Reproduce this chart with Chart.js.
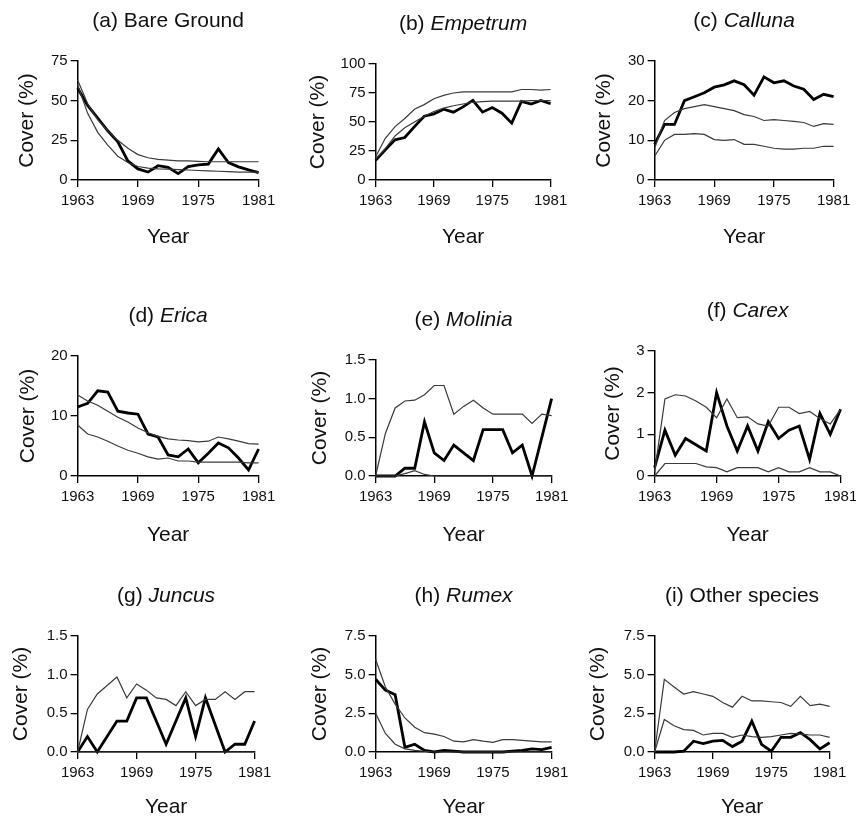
<!DOCTYPE html>
<html><head><meta charset="utf-8">
<script src="https://cdn.jsdelivr.net/npm/chart.js@4.4.1/dist/chart.umd.min.js"></script>
<style>
html,body{margin:0;padding:0;background:#fff;overflow:hidden;width:856px;height:818px}
#wrap{position:relative;width:856px;height:818px;overflow:hidden;background:#fff}
canvas{position:absolute}
</style></head><body><div id="wrap"></div>
<script>
// ---- data ----
const years = [1963,1964,1965,1966,1967,1968,1969,1970,1971,1972,1973,1974,1975,1976,1977,1978,1979,1980,1981];
const xTickLabels = ['1963','1969','1975','1981'];

const bareObs = [58,47,39,31,24,12,7,5,9,8,4,8.5,9.6,10,19.6,11,8.3,6.4,4.7];
const bareM1  = [63,48,38,31,25,20,16,14,13,12.5,12,12,11.7,11.5,11.5,11.5,11.5,11.5,11.5];
const bareM2  = [60,42,30,22,15,11,8.5,7.5,7,6.8,6.5,6.3,6,5.7,5.5,5.3,5,5,5];
const bareTicks = ['0','25','50','75'];

const empObs = [17,26,34.6,36.6,46,55,57,61,58.5,63,68.6,58.5,62.5,57.6,49,67.7,65.4,68.6,65.7];
const empM1  = [20,36,46,53,61,65,70,73,75,76,76,76,76,76,76,78,78,77.5,78];
const empM2  = [18,27,38,45,50,55,59,62,64,65.5,67,67.5,68,68,68,68,68.5,68.5,68.5];
const empTicks = ['0','25','50','75','100'];

const callObs = [9,14,14,20,21,22,23.4,24,25,24,21.4,26,24.5,25,23.7,22.9,20.3,21.6,21];
const callM1  = [8,15,17,18,18.5,19,18.5,18,17.5,16.5,16,15,15.2,15,14.8,14.5,13.5,14.2,14];
const callM2  = [6,10,11.5,11.5,11.7,11.5,10.2,10,10.2,9,9,8.5,8,7.8,7.8,8,8,8.5,8.5];
const callTicks = ['0','10','20','30'];

const ericaObs = [11.5,12.1,14.2,14,10.8,10.5,10.3,7,6.5,3.5,3.2,4.5,2.2,3.8,5.5,4.7,3,1,4.5];
const ericaM1  = [13.5,12.5,11.8,10.8,9.8,9,8,7.2,6.6,6.2,6,5.9,5.7,5.8,6.5,6.2,5.8,5.4,5.3];
const ericaM2  = [8.5,7,6.5,5.8,5,4.3,3.8,3.2,2.8,3,2.5,2.5,2.3,2.3,2.3,2.3,2.3,2.2,2.2];
const ericaTicks = ['0','10','20'];

const molObs = [0,0,0,0.1,0.1,0.7,0.3,0.2,0.4,0.3,0.2,0.6,0.6,0.6,0.3,0.4,0,0.5,1.0];
const molM1  = [0,0.55,0.88,0.97,0.98,1.05,1.17,1.17,0.8,0.9,0.98,0.88,0.8,0.8,0.8,0.8,0.68,0.8,0.78];
const molM2  = [0,0,0,0.03,0.07,0.02,0,0,0,0,0,0,0,0,0,0,0,0,0];
const molTicks = ['0.0','0.5','1.0','1.5'];

const carObs = [0.2,1.1,0.5,0.9,0.75,0.6,2.0,1.2,0.6,1.2,0.6,1.3,0.9,1.1,1.2,0.4,1.5,1.0,1.6];
const carM1  = [0.1,1.85,1.95,1.92,1.8,1.65,1.4,1.85,1.4,1.42,1.25,1.2,1.65,1.65,1.5,1.55,1.38,1.25,1.6];
const carM2  = [0,0.3,0.3,0.3,0.3,0.22,0.2,0.1,0.2,0.2,0.2,0.1,0.2,0.1,0.1,0.2,0.1,0.1,0];
const carTicks = ['0','1','2','3'];

const junObs = [0,0.2,0,0.2,0.4,0.4,0.7,0.7,0.4,0.1,0.4,0.7,0.2,0.7,0.35,0,0.1,0.1,0.4];
const junM1  = [0,0.55,0.75,0.86,0.97,0.7,0.88,0.8,0.7,0.68,0.6,0.78,0.6,0.68,0.68,0.78,0.68,0.78,0.78];
const junM2  = [0,0,0,0,0,0,0,0,0,0,0,0,0,0,0,0,0,0,0];
const junTicks = ['0.0','0.5','1.0','1.5'];

const rumObs = [4.7,4.0,3.7,0.3,0.5,0.1,0,0.1,0.05,0,0,0,0,0,0.05,0.1,0.2,0.15,0.3];
const rumM1  = [6.0,4.2,3.1,2.2,1.6,1.25,1.15,1.0,0.7,0.65,0.8,0.7,0.62,0.8,0.8,0.75,0.7,0.65,0.65];
const rumM2  = [2.5,1.2,0.5,0.2,0.1,0.05,0,0,0,0,0,0,0,0,0,0,0,0,0];
const rumTicks = ['0.0','2.5','5.0','7.5'];

const othObs = [0,0,0,0.05,0.7,0.55,0.7,0.75,0.35,0.7,2.0,0.5,0.05,0.95,0.95,1.25,0.8,0.2,0.6];
const othM1  = [0,4.7,4.2,3.75,3.9,3.75,3.6,3.2,2.9,3.6,3.3,3.3,3.25,3.2,2.95,3.6,3.0,3.1,2.95];
const othM2  = [0,2.1,1.7,1.45,1.4,1.1,1.2,1.2,0.95,1.1,1.0,0.95,1.0,1.1,1.2,1.15,1.1,1.1,0.95];
const othTicks = ['0.0','2.5','5.0','7.5'];

// ---- layout (plot area boxes) ----
const panels = [
  {pre:'(a) ', name:'Bare Ground', it:false, obs:bareObs, m1:bareM1, m2:bareM2, ticks:bareTicks, box:[78,259,61,180], cover:50, year:57},
  {pre:'(b) ', name:'Empetrum', it:true, obs:empObs, m1:empM1, m2:empM2, ticks:empTicks, box:[376,551,64,180], cover:57, year:57},
  {pre:'(c) ', name:'Calluna', it:true, obs:callObs, m1:callM1, m2:callM2, ticks:callTicks, box:[655,834,61,180], cover:50, year:57},
  {pre:'(d) ', name:'Erica', it:true, obs:ericaObs, m1:ericaM1, m2:ericaM2, ticks:ericaTicks, box:[78,259,356,476], cover:49, year:59},
  {pre:'(e) ', name:'Molinia', it:true, obs:molObs, m1:molM1, m2:molM2, ticks:molTicks, box:[376,552,360,476], cover:55, year:59},
  {pre:'(f) ', name:'Carex', it:true, obs:carObs, m1:carM1, m2:carM2, ticks:carTicks, box:[655,841,351,476], cover:41, year:59},
  {pre:'(g) ', name:'Juncus', it:true, obs:junObs, m1:junM1, m2:junM2, ticks:junTicks, box:[78,255,636,752], cover:56, year:55},
  {pre:'(h) ', name:'Rumex', it:true, obs:rumObs, m1:rumM1, m2:rumM2, ticks:rumTicks, box:[376,552,636,752], cover:55, year:55},
  {pre:'(i) ', name:'Other species', it:false, obs:othObs, m1:othM1, m2:othM2, ticks:othTicks, box:[655,830,636,752], cover:56, year:55}
];

const FAM = '"Liberation Sans", Arial, Helvetica, sans-serif';
Chart.defaults.font.family = FAM;
const TXT = '#111';

const titlePlugin = {
  id: 'panelTitle',
  afterDraw(chart, args, opts) {
    const {ctx, chartArea} = chart;
    const parts = opts.parts || [];
    ctx.save();
    ctx.textBaseline = 'middle';
    ctx.textAlign = 'left';
    ctx.fillStyle = TXT;
    const fonts = parts.map(p => (p.italic ? 'italic ' : '') + '21px ' + FAM);
    let total = 0;
    parts.forEach((p, i) => { ctx.font = fonts[i]; total += ctx.measureText(p.text).width; });
    let x = (chartArea.left + chartArea.right) / 2 - total / 2;
    const y = chartArea.top - 40;
    parts.forEach((p, i) => { ctx.font = fonts[i]; ctx.fillText(p.text, x, y); x += ctx.measureText(p.text).width; });
    ctx.restore();
  }
};

const wrap = document.getElementById('wrap');
panels.forEach(p => {
  const AX = 21, half = AX * 1.2 / 2;
  const Wy = p.cover + half;
  const padTop = 60, padRight = 26, Hx = p.year + half, padBottom = 2;
  const left = p.box[0] - Wy, top = p.box[2] - padTop;
  const w = Math.round(Wy + (p.box[1] - p.box[0]) + padRight);
  const h = Math.round(padTop + (p.box[3] - p.box[2]) + Hx + padBottom);
  const cv = document.createElement('canvas');
  cv.width = w; cv.height = h;
  cv.style.left = left + 'px'; cv.style.top = top + 'px';
  cv.style.width = w + 'px'; cv.style.height = h + 'px';
  wrap.appendChild(cv);
  const toXY = arr => years.map((x, i) => ({x, y: arr[i]}));
  const yMin = parseFloat(p.ticks[0]), yMax = parseFloat(p.ticks[p.ticks.length - 1]);
  new Chart(cv.getContext('2d'), {
    type: 'line',
    data: {datasets: [
      {data: toXY(p.m1), borderColor: '#3a3a3a', borderWidth: 1.2, pointRadius: 0, tension: 0, clip: false},
      {data: toXY(p.m2), borderColor: '#3a3a3a', borderWidth: 1.2, pointRadius: 0, tension: 0, clip: false},
      {data: toXY(p.obs), borderColor: '#000', borderWidth: 2.8, pointRadius: 0, tension: 0, clip: false}
    ]},
    options: {
      responsive: false, animation: false, devicePixelRatio: 1,
      layout: {padding: {top: padTop, right: w - Wy - (p.box[1] - p.box[0]), bottom: h - padTop - (p.box[3] - p.box[2]) - Hx, left: 0}},
      plugins: {legend: {display: false}, tooltip: {enabled: false}, title: {display: false},
        panelTitle: {parts: [{text: p.pre, italic: false}, {text: p.name, italic: p.it}]}},
      scales: {
        x: {
          type: 'linear', min: years[0], max: years[years.length - 1],
          afterBuildTicks: s => { s.ticks = xTickLabels.map(v => ({value: parseFloat(v)})); },
          afterFit: s => { s.height = Hx; },
          ticks: {callback: (v, i) => xTickLabels[i], font: {size: 15}, color: TXT, padding: 5, maxRotation: 0, autoSkip: false},
          grid: {display: true, drawOnChartArea: false, drawTicks: true, tickLength: 7, color: '#000', lineWidth: 1.3},
          border: {display: true, color: '#000', width: 1.5},
          title: {display: true, text: 'Year', font: {size: AX}, color: TXT, padding: 0}
        },
        y: {
          type: 'linear', min: yMin, max: yMax,
          afterBuildTicks: s => { s.ticks = p.ticks.map(v => ({value: parseFloat(v)})); },
          afterFit: s => { s.width = Wy; },
          ticks: {callback: (v, i) => p.ticks[i], font: {size: 15}, color: TXT, padding: 3, autoSkip: false},
          grid: {display: true, drawOnChartArea: false, drawTicks: true, tickLength: 7, color: '#000', lineWidth: 1.3},
          border: {display: true, color: '#000', width: 1.5},
          title: {display: true, text: 'Cover (%)', font: {size: AX}, color: TXT, padding: 0}
        }
      }
    },
    plugins: [titlePlugin]
  });
});
</script>
</body></html>
